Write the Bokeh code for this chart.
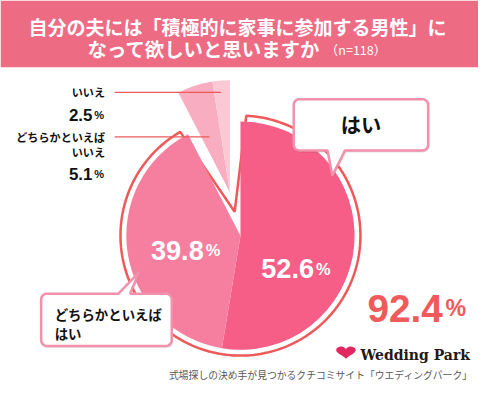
import numpy as np
from bokeh.plotting import figure
from bokeh.models import Range1d
from bokeh.core.properties import value
from bokeh.embed import file_html
from bokeh.resources import INLINE

# ---------------- data ----------------
title_line1 = "自分の夫には「積極的に家事に参加する男性」に"
title_line2 = "なって欲しいと思いますか"
sample_note = "（n=118）"
categories = ["はい", "どちらかといえば\nはい", "どちらかといえば\nいいえ", "いいえ"]
values = [52.6, 39.8, 5.1, 2.5]
slice_colors = ["#F65E87", "#F67FA0", "#F8A9BE", "#FAC6D3"]
footer_text = "式場探しの決め手が見つかるクチコミサイト「ウエディングパーク」"
brand_text = "Wedding Park"

# ---------------- layout ----------------
W, H = 478, 384
REF_W = 494
k = W / REF_W
REF_H = H / k

JP = "Noto Sans CJK JP"
NUM = "Liberation Sans"
RED = "#EE5A5A"
PINK_BORDER = "#F390AB"


def Y(y):
    return REF_H - y


p = figure(width=W, height=H, x_range=Range1d(0, REF_W), y_range=Range1d(0, REF_H),
           output_backend="svg", toolbar_location=None, min_border=0)
p.axis.visible = False
p.grid.visible = False
p.outline_line_color = None
p.background_fill_color = "white"
p.border_fill_color = "white"


def txt(x, y, s, size, color="#111111", align="left", baseline="middle",
        font=JP, style="bold"):
    p.text(x=[x], y=[Y(y)], text=[s], text_font=value(font),
           text_font_size=f"{size * k:.1f}px", text_color=color,
           text_align=align, text_baseline=baseline, text_font_style=style)


# header band
p.quad(left=0, right=REF_W, top=REF_H, bottom=Y(69), fill_color="#EE6B84", line_color=None)
txt(245, 27, title_line1, 19.6, "white", "center")
txt(90, 50, title_line2, 20.0, "white", "left")
txt(336, 51, sample_note, 13, "white", "left", style="normal")

# ---------------- pie ----------------
cx, cy = 248, 243
R_fill, R_ring, gap = 118, 124, 6
fr = np.array(values) / 100.0
cum = np.concatenate([[0.0], np.cumsum(fr)])
yes_share = cum[2]


def clock_pt(ox, oy, r, phi):
    return ox + r * np.sin(phi), oy - r * np.cos(phi)


# outline of the "yes" group (offset outward, white inner gap)
pa = np.arcsin(gap / R_ring)
pb = 2 * np.pi * yes_share - pa
phis = np.linspace(pa, pb, 200)
ax_, ay_ = clock_pt(cx, cy, R_ring, phis)
phi_mid = np.pi * (1 + yes_share)
half = np.pi * (1 - yes_share)
apx, apy = clock_pt(cx, cy, gap / np.sin(half), phi_mid)
ox = np.concatenate([[apx], ax_])
oy = np.concatenate([[apy], ay_])
p.patch(ox, Y(oy), fill_color="white", line_color=RED, line_width=2.6 * k)

# main slices
for i in range(2):
    p.wedge(x=cx, y=Y(cy), radius=R_fill,
            start_angle=np.pi / 2 - 2 * np.pi * cum[i],
            end_angle=np.pi / 2 - 2 * np.pi * cum[i + 1],
            direction="clock", fill_color=slice_colors[i], line_color=None)

# exploded "no" slices
ex, ey = clock_pt(cx, cy, 46, phi_mid)
for i in range(2, 4):
    p.wedge(x=ex, y=Y(ey), radius=116,
            start_angle=np.pi / 2 - 2 * np.pi * cum[i],
            end_angle=np.pi / 2 - 2 * np.pi * cum[i + 1],
            direction="clock", fill_color=slice_colors[i], line_color=None, fill_alpha=0.95)

# leader lines
p.segment(x0=[118, 118], y0=[Y(95), Y(141)], x1=[228, 216], y1=[Y(95), Y(141)],
          line_color=RED, line_width=1.2)

# left labels
txt(108, 95, categories[3], 11.5, "#111111", "right")
txt(95, 118, f"{values[3]}", 17.5, "#111111", "right", "alphabetic", NUM)
txt(97, 118, "%", 11.5, "#111111", "left", "alphabetic", NUM)

l1, l2 = categories[2].split("\n")
txt(108, 141, l1, 11.5, "#111111", "right")
txt(108, 157, l2, 11.5, "#111111", "right")
txt(95, 179, f"{values[2]}", 17.5, "#111111", "right", "alphabetic", NUM)
txt(97, 179, "%", 11.5, "#111111", "left", "alphabetic", NUM)

# inside labels
txt(210, 258, f"{values[1]}", 28, "white", "right", "alphabetic", NUM)
txt(212, 258, "%", 17, "white", "left", "alphabetic", NUM)
txt(324, 277, f"{values[0]}", 28, "white", "right", "alphabetic", NUM)
txt(326, 277, "%", 17, "white", "left", "alphabetic", NUM)

# total
txt(457, 318, f"{round(values[0] + values[1], 1)}", 40, "#F05A5A", "right", "alphabetic", NUM)
txt(460, 318, "%", 24, "#F05A5A", "left", "alphabetic", NUM)


# ---------------- callouts ----------------
def callout(x0, y0, x1, y1, r, edge, tb0, tb1, tip):
    xs, ys = [], []

    def arc(ccx, ccy, a0, a1):
        a = np.linspace(a0, a1, 8)
        xs.extend(ccx + r * np.cos(a))
        ys.extend(ccy + r * np.sin(a))

    arc(x0 + r, y0 + r, np.pi, 1.5 * np.pi)
    if edge == "top":
        xs.extend([tb0, tip[0], tb1]); ys.extend([y0, tip[1], y0])
    arc(x1 - r, y0 + r, 1.5 * np.pi, 2 * np.pi)
    arc(x1 - r, y1 - r, 0, 0.5 * np.pi)
    if edge == "bottom":
        xs.extend([tb1, tip[0], tb0]); ys.extend([y1, tip[1], y1])
    arc(x0 + r, y1 - r, 0.5 * np.pi, np.pi)
    xs = np.array(xs); ys = np.array(ys)
    p.patch(xs + 1.2, Y(ys + 2), fill_color="black", fill_alpha=0.12, line_color=None)
    p.patch(xs, Y(ys), fill_color="white", line_color=PINK_BORDER, line_width=2.6 * k)


callout(303, 102, 442, 155, 6, "bottom", 338, 356, (343, 181))
txt(372.5, 128, categories[0], 21, "#111111", "center")

callout(42, 303, 177, 357, 6, "top", 122, 134, (143, 281))
c1, c2 = categories[1].split("\n")
txt(56, 324, c1, 13.9, "#111111", "left")
txt(56, 344, c2, 13.9, "#111111", "left")

# ---------------- logo & footer ----------------
t = np.linspace(0, 2 * np.pi, 120)
hx = 16 * np.sin(t) ** 3
hy = 13 * np.cos(t) - 5 * np.cos(2 * t) - 2 * np.cos(3 * t) - np.cos(4 * t)
p.patch(357 + 0.63 * hx, Y(363 - 0.45 * hy), fill_color="#E2265F", line_color=None)
txt(372, 366, brand_text, 14.5, "#231815", "left", font="DejaVu Serif")
txt(488, 387, footer_text, 10.1, "#595757", "right", style="normal")

open("out.html", "w").write(file_html(p, INLINE))
